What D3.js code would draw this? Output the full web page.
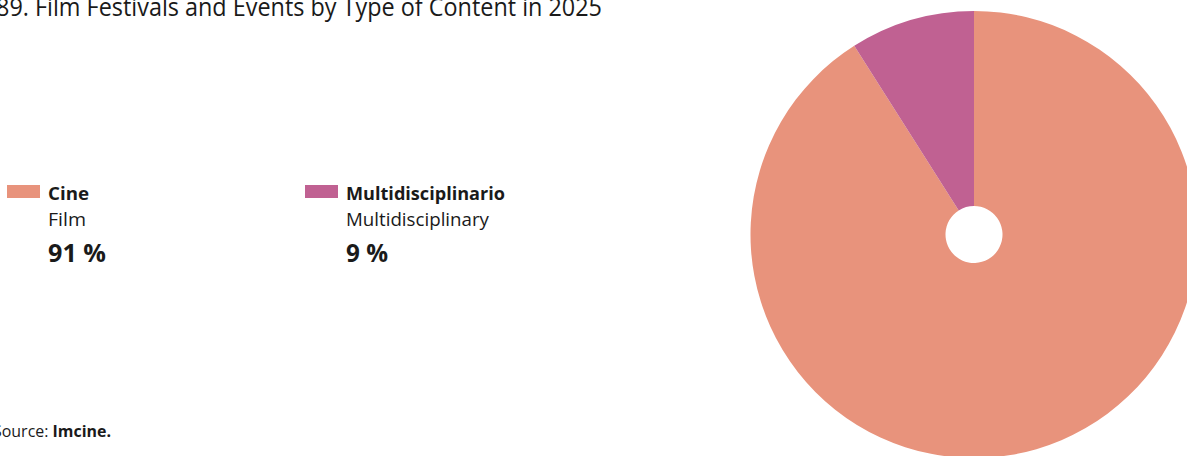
<!DOCTYPE html>
<html><head><meta charset="utf-8">
<script src="https://cdn.jsdelivr.net/npm/d3@7/dist/d3.min.js"></script>
<style>body{margin:0;background:#fff;overflow:hidden}svg{display:block}text{font-family:"Open Sans","Noto Sans",sans-serif;fill:#1a1a1a}</style>
</head><body><svg id="c" width="1187" height="456"></svg>
<script>
const categories = ["Cine", "Multidisciplinario"];
const categoriesEn = ["Film", "Multidisciplinary"];
const values = [91, 9];
const colors = ["#E8937C", "#C06192"];
const title = "89. Film Festivals and Events by Type of Content in 2025";
const source = "Imcine.";

const svg = d3.select("#c");

// title
svg.append("text").attr("x", -4).attr("y", 16)
  .attr("font-size", 25).attr("textLength", 606).attr("lengthAdjust", "spacingAndGlyphs")
  .text(title);

// pie
const cx = 974, cy = 234.5, R = 223.5, r0 = 28.5;
const pie = d3.pie().sort(null).value(d => d)(values);
const arc = d3.arc().innerRadius(r0).outerRadius(R);
svg.append("g").attr("transform", `translate(${cx},${cy})`)
  .selectAll("path").data(pie).join("path")
  .attr("d", arc).attr("fill", (d, i) => colors[i]);

// legend
const lx = d3.scaleOrdinal().domain(categories).range([7, 305]);
const titleW = [41, 159], enW = [38, 143], pctW = [58, 42];
const lg = svg.append("g").selectAll("g").data(categories).join("g")
  .attr("transform", d => `translate(${lx(d)},0)`);
lg.append("rect").attr("x", 0).attr("y", 185).attr("width", 33).attr("height", 13)
  .attr("fill", (d, i) => colors[i]);
lg.append("text").attr("x", 41).attr("y", 200).attr("font-size", 18).attr("font-weight", "bold")
  .attr("textLength", (d, i) => titleW[i]).attr("lengthAdjust", "spacingAndGlyphs").text(d => d);
lg.append("text").attr("x", 41).attr("y", 226).attr("font-size", 18)
  .attr("textLength", (d, i) => enW[i]).attr("lengthAdjust", "spacingAndGlyphs")
  .text((d, i) => categoriesEn[i]);
lg.append("text").attr("x", 41).attr("y", 262).attr("font-size", 25).attr("font-weight", "bold")
  .attr("textLength", (d, i) => pctW[i]).attr("lengthAdjust", "spacingAndGlyphs")
  .text((d, i) => values[i] + " %");

// source
const st = svg.append("text").attr("x", -7).attr("y", 437).attr("font-size", 16)
  .attr("textLength", 118).attr("lengthAdjust", "spacingAndGlyphs");
st.append("tspan").text("Source: ");
st.append("tspan").attr("font-weight", "bold").text(source);
</script></body></html>
